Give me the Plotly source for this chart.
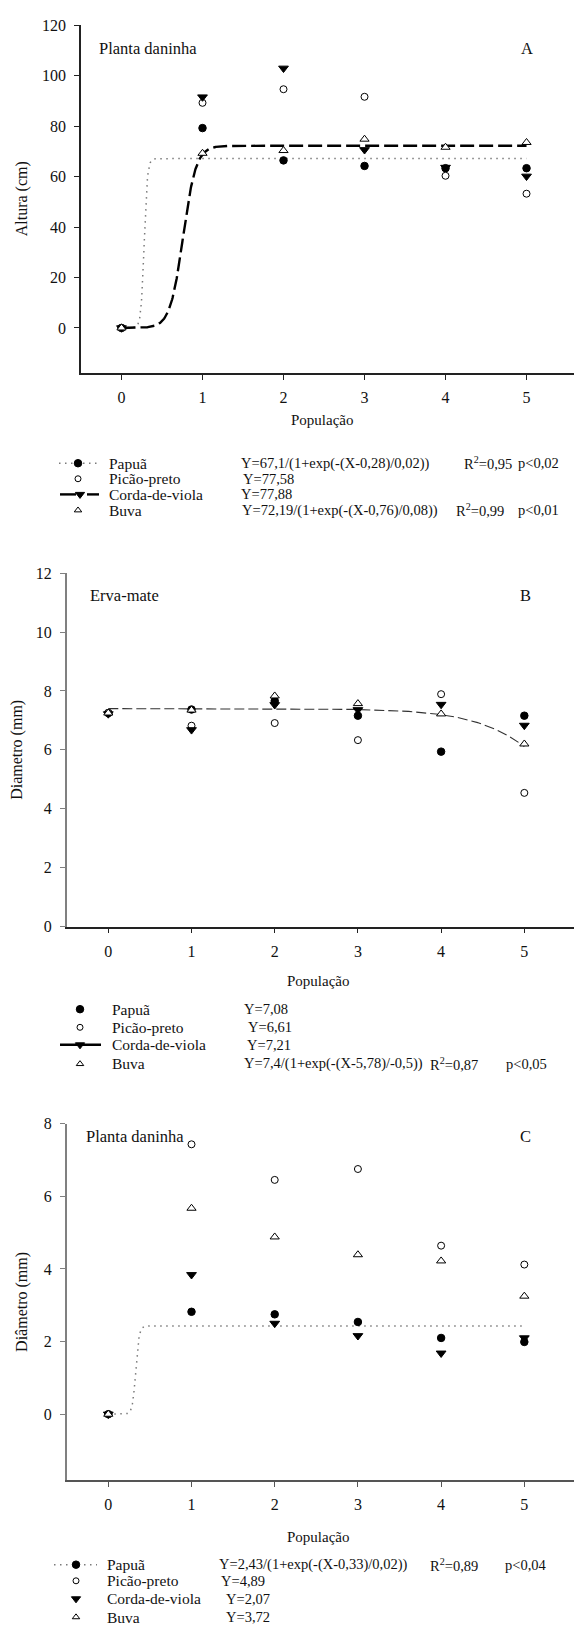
import numpy as np
import plotly.graph_objects as go

W, H = 574, 1637
FONT = "'Liberation Serif', 'Times New Roman', Tinos, 'DejaVu Serif', serif"

populacao = [0, 1, 2, 3, 4, 5]

# A: altura das plantas daninhas (cm)
altura_papua = [0, 79.2, 66.4, 64.2, 63.3, 63.3]
altura_picao = [0, 89.2, 94.6, 91.6, 60.3, 53.2]
altura_corda = [0, 91.5, 102.9, 70.6, 63.6, 60.1]
altura_buva = [0, 69.2, 70.3, 74.8, 71.6, 73.5]

# B: diâmetro da erva-mate (mm)
erva_papua = [7.25, 7.37, 7.66, 7.16, 5.94, 7.16]
erva_picao = [7.25, 6.82, 6.91, 6.33, 7.89, 4.54]
erva_corda = [7.22, 6.68, 7.53, 7.36, 7.54, 6.83]
erva_buva = [7.25, 7.35, 7.83, 7.57, 7.22, 6.20]

# C: diâmetro das plantas daninhas (mm)
daninha_papua = [0, 2.82, 2.75, 2.54, 2.10, 1.99]
daninha_picao = [0, 7.43, 6.45, 6.75, 4.64, 4.12]
daninha_corda = [0, 3.84, 2.50, 2.16, 1.68, 2.10]
daninha_buva = [0, 5.67, 4.88, 4.39, 4.22, 3.25]

# sigmoid fits Y = a/(1+exp(-(X-x0)/b))
fit_A_papua = (67.1, 0.28, 0.02)
fit_A_buva = (72.19, 0.76, 0.08)
fit_B_buva = (7.4, 5.78, -0.5)
fit_C_papua = (2.43, 0.33, 0.02)

especies = ["Papuã", "Picão-preto", "Corda-de-viola", "Buva"]
eq_A = ["Y=67,1/(1+exp(-(X-0,28)/0,02))", "Y=77,58", "Y=77,88",
        "Y=72,19/(1+exp(-(X-0,76)/0,08))"]
stat_A = [("R<sup>2</sup>=0,95", "p<0,02"), None, None, ("R<sup>2</sup>=0,99", "p<0,01")]
eq_B = ["Y=7,08", "Y=6,61", "Y=7,21", "Y=7,4/(1+exp(-(X-5,78)/-0,5))"]
stat_B = [None, None, None, ("R<sup>2</sup>=0,87", "p<0,05")]
eq_C = ["Y=2,43/(1+exp(-(X-0,33)/0,02))", "Y=4,89", "Y=2,07", "Y=3,72"]
stat_C = [("R<sup>2</sup>=0,89", "p<0,04"), None, None, None]


def sigmoid(params, x):
    a, x0, b = params
    return a / (1 + np.exp(-(x - x0) / b))


xs = np.linspace(0, 5, 1001)

# panel boxes in pixels: left, right, top, bottom, x-range, y-range
panels = [
    dict(l=81, r=574, t=17.3, b=369.3, xr=[-0.5, 5.586], yr=[-18.04, 120],
         yt=list(range(0, 121, 20)), ycol="#222", xcol="#222"),
    dict(l=66.7, r=574, t=571, b=928.3, xr=[-0.5, 5.597], yr=[0, 12],
         yt=list(range(0, 13, 2)), ycol="#808080", xcol="#222"),
    dict(l=66.7, r=574, t=1127.3, b=1487.7, xr=[-0.5, 5.597], yr=[-1.817, 8],
         yt=list(range(0, 9, 2)), ycol="#808080", xcol="#555"),
]

fig = go.Figure()
layout = dict(width=W, height=H, margin=dict(l=0, r=0, t=0, b=0),
              paper_bgcolor="white", plot_bgcolor="rgba(0,0,0,0)",
              showlegend=False, font=dict(family=FONT, color="#111"))

for i, p in enumerate(panels, start=1):
    sx = "" if i == 1 else str(i)
    layout["xaxis" + sx] = dict(
        domain=[p["l"] / W, p["r"] / W], range=p["xr"], anchor="y" + sx,
        tickvals=populacao, ticks="outside", ticklen=5, tickwidth=1.3,
        tickcolor=p["xcol"], showline=True, linecolor=p["xcol"], linewidth=1.5,
        showgrid=False, zeroline=False, ticklabelstandoff=4,
        tickfont=dict(family=FONT, size=16, color="#111"), fixedrange=True)
    layout["yaxis" + sx] = dict(
        domain=[1 - p["b"] / H, 1 - p["t"] / H], range=p["yr"], anchor="x" + sx,
        tickvals=p["yt"], ticks="outside", ticklen=5, tickwidth=1.3,
        tickcolor=p["ycol"], showline=True, linecolor=p["ycol"], linewidth=1.5,
        showgrid=False, zeroline=False, ticklabelstandoff=5,
        tickfont=dict(family=FONT, size=16, color="#111"), fixedrange=True)

# overlay axis in pixel units for legends and labels
layout["xaxis4"] = dict(domain=[0, 1], range=[0, W], visible=False, fixedrange=True,
                        anchor="y4")
layout["yaxis4"] = dict(domain=[0, 1], range=[H, 0], visible=False, fixedrange=True,
                        anchor="x4")

DOT = "1.5px,4.5px"


def line(xa, ya, x, y, color, width, dash):
    fig.add_trace(go.Scatter(x=x, y=y, mode="lines", xaxis=xa, yaxis=ya,
                             line=dict(color=color, width=width, dash=dash),
                             hoverinfo="skip"))


def pts(xa, ya, y, symbol, fill, size):
    fig.add_trace(go.Scatter(x=populacao, y=y, mode="markers", xaxis=xa, yaxis=ya,
                             marker=dict(symbol=symbol, size=size, color=fill,
                                         line=dict(color="black", width=1)),
                             cliponaxis=False))


def series(xa, ya, ys):
    pts(xa, ya, ys[0], "circle", "black", 7.5)
    pts(xa, ya, ys[1], "circle", "white", 7)
    pts(xa, ya, ys[2], "triangle-down", "black", 8.5)
    pts(xa, ya, ys[3], "triangle-up", "white", 8)


# A
line("x", "y", xs, sigmoid(fit_A_papua, xs), "#7a7a7a", 1.5, DOT)
line("x", "y", xs, sigmoid(fit_A_buva, xs), "black", 2.4, "14px,5px")
series("x", "y", [altura_papua, altura_picao, altura_corda, altura_buva])
# B
line("x2", "y2", xs, sigmoid(fit_B_buva, xs), "#333", 1.1, "10px,4px")
series("x2", "y2", [erva_papua, erva_picao, erva_corda, erva_buva])
# C
line("x3", "y3", xs, sigmoid(fit_C_papua, xs), "#7a7a7a", 1.5, DOT)
series("x3", "y3", [daninha_papua, daninha_picao, daninha_corda, daninha_buva])

annotations = []


def txt(x, y, s, size=15, anchor="left", angle=0):
    annotations.append(dict(x=x, y=y, xref="x4", yref="y4", text=s, showarrow=False,
                            xanchor=anchor, yanchor="middle", textangle=angle,
                            font=dict(family=FONT, size=size, color="#111")))


# panel labels and axis titles
txt(96.7, 40.7, "Planta daninha", 16.5)
txt(527, 40.7, "A", 16.5, "center")
txt(22, 193.3, "Altura (cm)", 16, "center", -90)
txt(322, 416.5, "População", 15, "center")

txt(88.3, 594, "Erva-mate", 16.5)
txt(525, 594, "B", 16.5, "center")
txt(17, 749.6, "Diametro (mm)", 16, "center", -90)
txt(318, 983.3, "População", 15, "center")

txt(84, 1140, "Planta daninha", 16.5)
txt(525, 1140, "C", 16.5, "center")
txt(22, 1307.5, "Diâmetro (mm)", 16, "center", -90)
txt(318, 1545, "População", 15, "center")


def legend_marker(x, y, symbol, fill, size):
    fig.add_trace(go.Scatter(x=[x], y=[y], mode="markers", xaxis="x4", yaxis="y4",
                             marker=dict(symbol=symbol, size=size, color=fill,
                                         line=dict(color="black", width=1)),
                             hoverinfo="skip"))


def legend_block(rows, tx, eqx, eqs, stats, statx):
    for k in range(4):
        txt(tx, rows[k], especies[k], 15.5)
        txt(eqx[k], rows[k], eqs[k], 14.5)
        if stats[k]:
            txt(statx[k][0], rows[k], stats[k][0], 14.5)
            txt(statx[k][1], rows[k], stats[k][1], 14.5)


# legend A
rows_A = [460, 475.7, 491.5, 507.5]
line("x4", "y4", [59, 97], [rows_A[0], rows_A[0]], "#7a7a7a", 1.5, DOT)
legend_marker(78, rows_A[0], "circle", "black", 7.5)
legend_marker(78, rows_A[1], "circle", "white", 6)
line("x4", "y4", [60, 76], [rows_A[2], rows_A[2]], "black", 2.4, "solid")
line("x4", "y4", [87, 99], [rows_A[2], rows_A[2]], "black", 2.4, "solid")
legend_marker(80, rows_A[2], "triangle-down", "black", 8)
legend_marker(78, rows_A[3], "triangle-up", "white", 6.5)
legend_block(rows_A, 107, [238.6, 241, 238.6, 240], eq_A, stat_A,
             [(462, 516), None, None, (454, 516)])

# legend B
rows_B = [1011.7, 1030, 1047.7, 1067]
legend_marker(80, rows_B[0], "circle", "black", 7.5)
legend_marker(80, rows_B[1], "circle", "white", 6)
line("x4", "y4", [60, 101], [rows_B[2], rows_B[2]], "black", 2.4, "solid")
legend_marker(80, rows_B[2], "triangle-down", "black", 8)
legend_marker(80, rows_B[3], "triangle-up", "white", 6.5)
legend_block(rows_B, 110, [242.3, 246, 244.5, 242.3], eq_B, stat_B,
             [None, None, None, (428, 504)])

# legend C
rows_C = [1573, 1589.3, 1607.5, 1626]
line("x4", "y4", [54, 97], [rows_C[0], rows_C[0]], "#7a7a7a", 1.5, DOT)
legend_marker(76, rows_C[0], "circle", "black", 7.5)
legend_marker(76, rows_C[1], "circle", "white", 6)
legend_marker(76, rows_C[2], "triangle-down", "black", 8)
legend_marker(76, rows_C[3], "triangle-up", "white", 6.5)
legend_block(rows_C, 105, [216.7, 219, 224, 224], eq_C, stat_C,
             [(428, 503), None, None, None])

layout["annotations"] = annotations
fig.update_layout(**layout)
fig.write_html("out.html")
